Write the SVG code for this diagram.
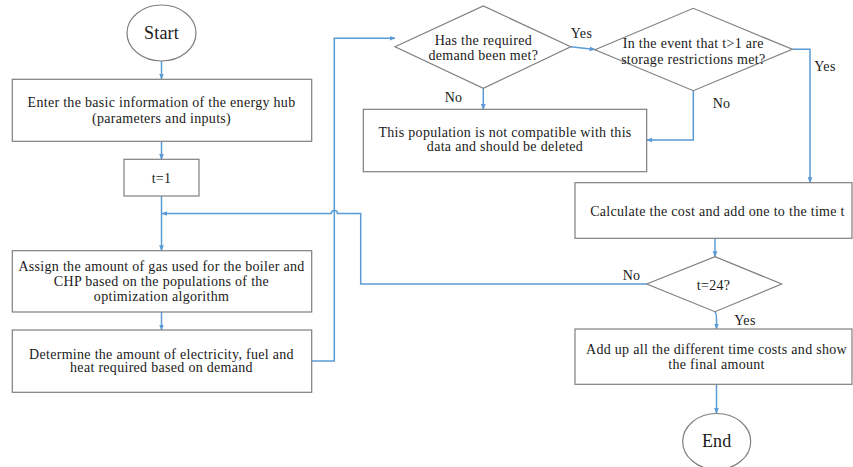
<svg xmlns="http://www.w3.org/2000/svg" width="853" height="467" viewBox="0 0 853 467">
<style>
.n{fill:#fff;stroke:#7f7f7f;stroke-width:1.2}
text{font-family:'Liberation Serif','Times New Roman','DejaVu Serif',Tinos,serif;font-size:14px;letter-spacing:0.3px;fill:#1a1a1a;text-anchor:middle}
.b{font-size:18px;letter-spacing:0.2px}
.c{fill:none;stroke:#5b9bd5;stroke-width:1.5}
</style>
<defs>
<marker id="ah" viewBox="0 0 10 10" refX="9" refY="5" markerWidth="6" markerHeight="6" orient="auto" markerUnits="userSpaceOnUse">
<path d="M0,1 L10,5 L0,9 z" fill="#5b9bd5"/>
</marker>
</defs>
<rect width="853" height="467" fill="#fff"/>
<g id="connectors">
<path class="c" d="M161.5,61 V79" marker-end="url(#ah)"/>
<path class="c" d="M161.5,141.3 V159.3" marker-end="url(#ah)"/>
<path class="c" d="M161.5,196 V250.7" marker-end="url(#ah)"/>
<path class="c" d="M161.5,312 V330" marker-end="url(#ah)"/>
<path class="c" d="M311.7,361 H334.3 V38.3 H395" marker-end="url(#ah)"/>
<path class="c" d="M646.7,284 H360.7 V213.5 H337.5 A3,3 0 0 0 331.3,213.5 H162" marker-end="url(#ah)"/>
<path class="c" d="M570.7,46.7 L595,49.5" marker-end="url(#ah)"/>
<path class="c" d="M483.3,88.3 V109.3" marker-end="url(#ah)"/>
<path class="c" d="M693.3,90.7 V140 H646.7" marker-end="url(#ah)"/>
<path class="c" d="M792.3,49.3 H810 V182.7" marker-end="url(#ah)"/>
<path class="c" d="M715,238.3 V256.7" marker-end="url(#ah)"/>
<path class="c" d="M715,311.7 Q716.5,314 716.5,318 V329" marker-end="url(#ah)"/>
<path class="c" d="M716.5,384.3 V413.3" marker-end="url(#ah)"/>
<text x="581.5" y="37.5">Yes</text>
<text x="453.5" y="102">No</text>
<text x="721.5" y="107.5">No</text>
<text x="825" y="71">Yes</text>
<text x="631.5" y="280">No</text>
<text x="745" y="325">Yes</text>
</g>
<g id="start">
<ellipse class="n" cx="161.5" cy="33" rx="34.5" ry="28"/>
<text class="b" x="161.5" y="39">Start</text>
</g>
<g id="enter">
<rect class="n" x="12.3" y="79.3" width="299.4" height="62"/>
<text x="161.5" y="107">Enter the basic information of the energy hub</text>
<text x="161.5" y="123">(parameters and inputs)</text>
</g>
<g id="t1">
<rect class="n" x="124" y="159.3" width="75" height="36.7"/>
<text x="161.5" y="183">t=1</text>
</g>
<g id="assign">
<rect class="n" x="12.3" y="250.7" width="299.4" height="61.3"/>
<text x="161.5" y="271">Assign the amount of gas used for the boiler and</text>
<text x="161.5" y="286">CHP based on the populations of the</text>
<text x="161.5" y="300.5">optimization algorithm</text>
</g>
<g id="determine">
<rect class="n" x="12.3" y="330" width="299.4" height="62.3"/>
<text x="161.5" y="358.5">Determine the amount of electricity, fuel and</text>
<text x="161.5" y="372">heat required based on demand</text>
</g>
<g id="demand">
<polygon class="n" points="395,46.7 483.3,6 570.7,46.7 483.3,88.3"/>
<text x="483.3" y="44.5">Has the required</text>
<text x="483.3" y="59.5">demand been met?</text>
</g>
<g id="storage">
<polygon class="n" points="595,49.7 693.3,8.3 792.3,49.3 693.3,90.7"/>
<text x="693.3" y="47.5">In the event that t&gt;1 are</text>
<text x="693.3" y="64">storage restrictions met?</text>
</g>
<g id="delete">
<rect class="n" x="363.3" y="109.3" width="283.4" height="62.4"/>
<text x="505" y="137">This population is not compatible with this</text>
<text x="505" y="151">data and should be deleted</text>
</g>
<g id="calc">
<rect class="n" x="575" y="182.7" width="277" height="55.6"/>
<text x="717.5" y="216">Calculate the cost and add one to the time t</text>
</g>
<g id="t24">
<polygon class="n" points="646.7,284 715,256.7 781.7,284 715,311.7"/>
<text x="713.5" y="289.5">t=24?</text>
</g>
<g id="sum">
<rect class="n" x="575" y="329" width="277" height="55.3"/>
<text x="716.5" y="353.5">Add up all the different time costs and show</text>
<text x="716.5" y="368.5">the final amount</text>
</g>
<g id="end">
<ellipse class="n" cx="716.7" cy="441.5" rx="34" ry="28"/>
<text class="b" x="716.7" y="447">End</text>
</g>
</svg>
